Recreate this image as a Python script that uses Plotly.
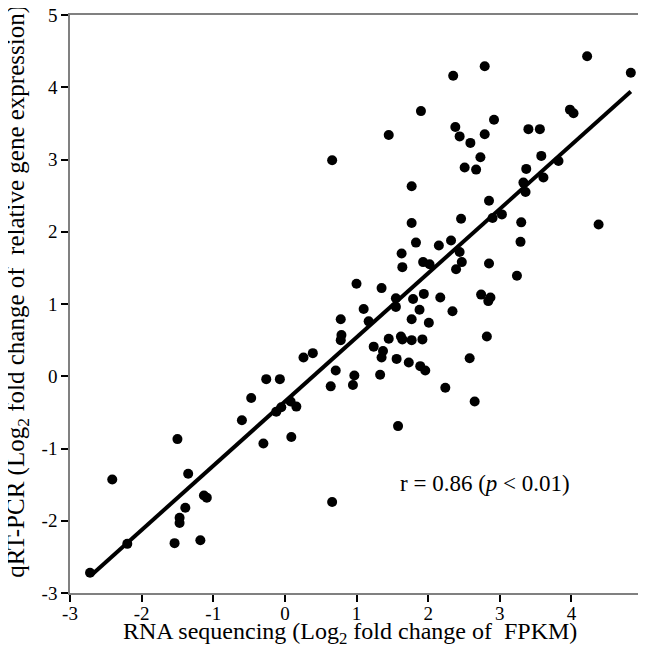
import plotly.graph_objects as go

# RNA-seq log2 fold change (x) vs qRT-PCR log2 fold change (y)
rna_seq = [
    -2.72, -2.41, -2.20, -1.54, -1.18, -1.47, -1.47, -1.39, -1.13, -1.09,
    -1.35, -1.50, -0.60, -0.47, -0.30, -0.26, -0.07, -0.12, -0.05, 0.08,
    0.16, 0.09, 0.26, 0.39, 0.64, 0.71, 0.66, 0.66, 0.78, 0.79,
    0.78, 0.95, 0.97, 1.00, 1.10, 1.17, 1.24, 1.33, 1.37, 1.35,
    1.35, 1.45, 1.45, 1.55, 1.55, 1.56, 1.58, 1.62, 1.64, 1.63,
    1.64, 1.73, 1.77, 1.77, 1.79, 1.77, 1.77, 1.83, 1.88, 1.89,
    1.90, 1.92, 1.93, 1.94, 1.96, 2.01, 2.02, 2.15, 2.17, 2.24,
    2.32, 2.34, 2.35, 2.38, 2.39, 2.44, 2.44, 2.46, 2.47, 2.51,
    2.58, 2.59, 2.65, 2.67, 2.73, 2.74, 2.79, 2.79, 2.82, 2.84,
    2.85, 2.85, 2.87, 2.90, 2.92, 3.03, 3.24, 3.29, 3.30, 3.33,
    3.36, 3.37, 3.40, 3.56, 3.58, 3.61, 3.82, 3.98, 4.03, 4.22,
    4.38, 4.83,
]
qrt_pcr = [
    -2.72, -1.43, -2.32, -2.31, -2.27, -2.03, -1.96, -1.82, -1.65, -1.68,
    -1.35, -0.87, -0.61, -0.30, -0.93, -0.04, -0.04, -0.49, -0.43, -0.35,
    -0.42, -0.84, 0.26, 0.32, -0.14, 0.08, -1.74, 2.99, 0.79, 0.57,
    0.50, -0.12, 0.01, 1.28, 0.93, 0.76, 0.41, 0.02, 0.35, 0.26,
    1.22, 3.34, 0.52, 1.08, 0.96, 0.24, -0.69, 0.55, 0.51, 1.70,
    1.51, 0.19, 0.79, 0.50, 1.07, 2.63, 2.12, 1.85, 0.92, 0.14,
    3.67, 0.51, 1.58, 1.14, 0.08, 0.74, 1.55, 1.81, 1.09, -0.16,
    1.88, 0.90, 4.16, 3.45, 1.48, 1.72, 3.32, 2.18, 1.58, 2.89,
    0.25, 3.23, -0.35, 2.86, 3.03, 1.13, 4.29, 3.35, 0.55, 1.04,
    1.56, 2.43, 1.09, 2.19, 3.55, 2.24, 1.39, 1.86, 2.13, 2.68,
    2.55, 2.87, 3.42, 3.42, 3.05, 2.75, 2.98, 3.69, 3.64, 4.43,
    2.10, 4.20,
]

# fitted line, end points
fit_x = [-2.70, 4.83]
fit_y = [-2.75, 3.94]

axis_ticks = [-3, -2, -1, 0, 1, 2, 3, 4, 5]
axis_labels = ["-3", "-2", "-1", "0", "1", "2", "3", "4", "5"]

x_title = "RNA sequencing (Log<sub>2</sub> fold change of  FPKM)"
y_title = "qRT-PCR (Log<sub>2</sub> fold change of  relative gene expression)"

FONT = "Liberation Serif"

fig = go.Figure()
fig.add_trace(go.Scatter(
    x=rna_seq, y=qrt_pcr, mode="markers",
    marker=dict(color="black", size=10),
    showlegend=False,
))
fig.add_trace(go.Scatter(
    x=fit_x, y=fit_y, mode="lines",
    line=dict(color="black", width=4),
    showlegend=False,
))

fig.add_annotation(
    x=2.79, y=-1.48, xref="x", yref="y",
    text="r = 0.86 (<i>p</i> < 0.01)",
    showarrow=False,
    font=dict(family=FONT, size=23, color="black"),
)

# axis titles as annotations so they sit where the original has them
fig.add_annotation(
    x=0.489, y=0, xref="paper", yref="paper",
    xanchor="center", yanchor="middle", yshift=-40,
    text=x_title, showarrow=False,
    font=dict(family=FONT, size=24, color="black"),
)
fig.add_annotation(
    x=0, y=0.521, xref="paper", yref="paper",
    xanchor="center", yanchor="middle", xshift=-52,
    text=y_title, textangle=-90, showarrow=False,
    font=dict(family=FONT, size=25, color="black"),
)

axis_style = dict(
    range=[-3, 5],
    tickvals=axis_ticks,
    ticktext=axis_labels,
    showgrid=False,
    zeroline=False,
    showline=True,
    linecolor="#808080",
    linewidth=1.5,
    mirror=True,
    ticks="outside",
    ticklen=7,
    tickwidth=2,
    tickcolor="black",
    tickfont=dict(family=FONT, size=19, color="black"),
    ticklabeloverflow="allow",
    automargin=False,
)

fig.update_xaxes(**axis_style, ticklabelstandoff=-5)
fig.update_yaxes(**axis_style)

# page body adds an 8px margin, so the figure is 8px smaller than the window
fig.update_layout(
    width=638, height=638,
    margin=dict(l=61.5, r=3, t=7, b=53),
    plot_bgcolor="white",
    paper_bgcolor="white",
)

fig.write_html("out.html")
